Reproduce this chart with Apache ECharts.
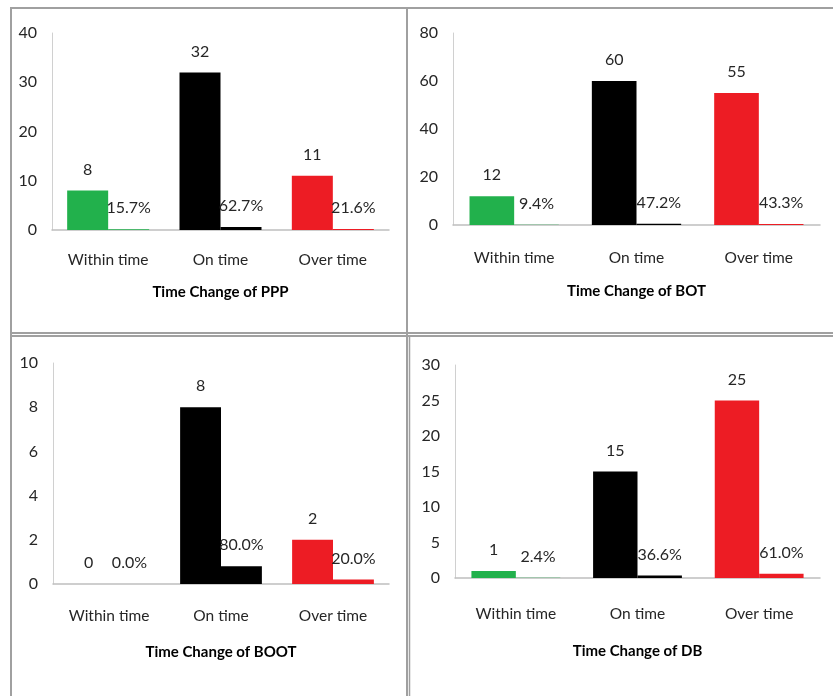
<!DOCTYPE html>
<html>
<head>
<meta charset="utf-8">
<script src="https://cdn.jsdelivr.net/npm/echarts@6/dist/echarts.min.js"></script>
<style>
  html, body { margin: 0; padding: 0; background: #fff; }
  #chart { width: 833px; height: 696px; }
</style>
</head>
<body>
<div id="chart"></div>
<script>
// Time performance by procurement type: project counts and their shares
const categories = ['Within time', 'On time', 'Over time'];

const pppCounts = [8, 32, 11];
const pppShares = [15.7, 62.7, 21.6];

const botCounts = [12, 60, 55];
const botShares = [9.4, 47.2, 43.3];

const bootCounts = [0, 8, 2];
const bootShares = [0.0, 80.0, 20.0];

const dbCounts = [1, 15, 25];
const dbShares = [2.4, 36.6, 61.0];

const panelTitles = ['Time Change of PPP', 'Time Change of BOT', 'Time Change of BOOT', 'Time Change of DB'];
const axisMax = [40, 80, 10, 30];
const axisStep = [10, 20, 2, 5];

const barColors = ['#22B14C', '#000000', '#ED1C24'];
const FONT = 'Lato, "Open Sans", sans-serif';
const TEXT = '#262626';

const panels = [
  { counts: pppCounts, shares: pppShares, grid: { left: 52, top: 33, width: 337, height: 197 }, labelMargin: 22, nameGap: 55 },
  { counts: botCounts, shares: botShares, grid: { left: 453, top: 33, width: 367, height: 192 }, labelMargin: 25, nameGap: 59 },
  { counts: bootCounts, shares: bootShares, grid: { left: 53, top: 363, width: 336, height: 221 }, labelMargin: 24, nameGap: 61 },
  { counts: dbCounts, shares: dbShares, grid: { left: 455, top: 365, width: 365, height: 213 }, labelMargin: 28, nameGap: 66 }
];

const grids = [], xAxes = [], yAxes = [], series = [];

panels.forEach((p, i) => {
  grids.push(Object.assign({ containLabel: false }, p.grid));
  xAxes.push({
    type: 'category',
    gridIndex: i,
    data: categories,
    axisTick: { show: false },
    axisLine: { lineStyle: { color: '#BFBFBF', width: 1.5 } },
    axisLabel: { color: TEXT, fontFamily: FONT, fontSize: 15.5, margin: p.labelMargin },
    name: panelTitles[i],
    nameLocation: 'middle',
    nameGap: p.nameGap,
    nameTextStyle: { color: '#000', fontFamily: FONT, fontSize: 15, fontWeight: 'bold' }
  });
  yAxes.push({
    type: 'value',
    gridIndex: i,
    min: 0,
    max: axisMax[i],
    interval: axisStep[i],
    axisLine: { show: true, lineStyle: { color: '#D0D0D0', width: 1 } },
    axisTick: { show: false },
    splitLine: { show: false },
    axisLabel: { color: TEXT, fontFamily: FONT, fontSize: 16, margin: 15 }
  });
  const labelStyle = { show: true, position: 'top', distance: 13, color: TEXT, fontFamily: FONT, fontSize: 16 };
  series.push({
    type: 'bar',
    xAxisIndex: i,
    yAxisIndex: i,
    barGap: '0%',
    barCategoryGap: '27%',
    data: p.counts.map((v, k) => ({ value: v, itemStyle: { color: barColors[k] } })),
    label: Object.assign({}, labelStyle, { formatter: (d) => String(d.value) })
  });
  series.push({
    type: 'bar',
    xAxisIndex: i,
    yAxisIndex: i,
    barGap: '0%',
    barCategoryGap: '27%',
    data: p.shares.map((v, k) => ({ value: v / 100, itemStyle: { color: barColors[k] } })),
    label: Object.assign({}, labelStyle, { formatter: (d) => (d.value * 100).toFixed(1) + '%' })
  });
});

// Panel frame lines
const frameColor = '#A0A0A0';
const frame = [
  { shape: { x1: 11, y1: 8, x2: 833, y2: 8 }, w: 2 },
  { shape: { x1: 11, y1: 7, x2: 11, y2: 696 }, w: 2 },
  { shape: { x1: 407, y1: 7, x2: 407, y2: 696 }, w: 2 },
  { shape: { x1: 409.5, y1: 335, x2: 409.5, y2: 696 }, w: 1.5 },
  { shape: { x1: 11, y1: 333, x2: 833, y2: 333 }, w: 2 },
  { shape: { x1: 11, y1: 336, x2: 833, y2: 336 }, w: 2 }
].map(f => ({ type: 'line', shape: f.shape, style: { stroke: frameColor, lineWidth: f.w }, silent: true }));

const chart = echarts.init(document.getElementById('chart'), null, { renderer: 'canvas' });
chart.setOption({
  animation: false,
  backgroundColor: '#ffffff',
  grid: grids,
  xAxis: xAxes,
  yAxis: yAxes,
  series: series,
  graphic: frame
});
</script>
</body>
</html>
